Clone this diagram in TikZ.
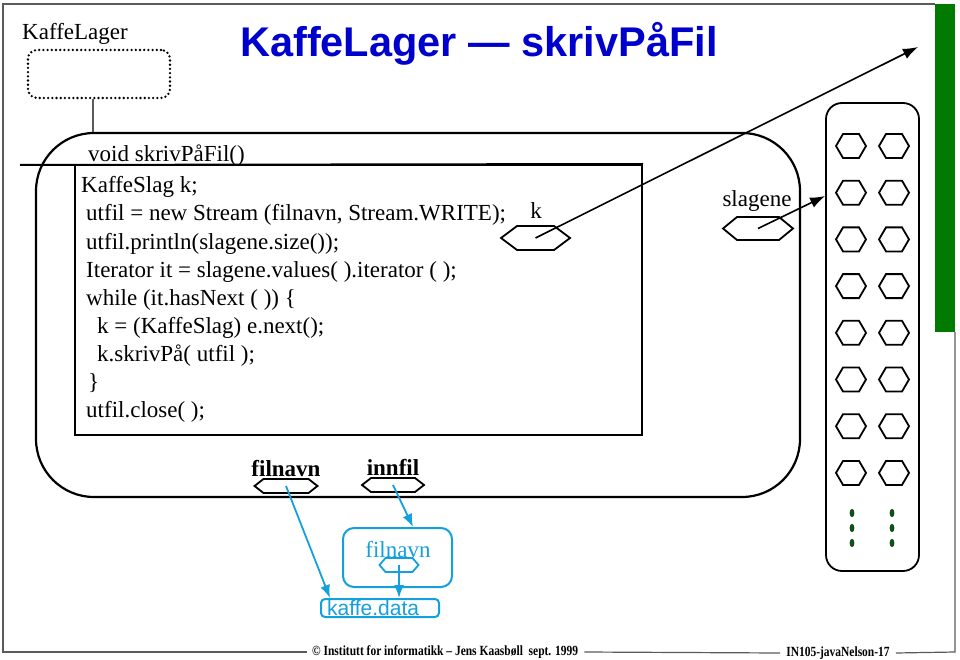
\documentclass[tikz,border=0pt]{standalone}
\usepackage{fontspec}
\setmainfont{Liberation Serif}
\newfontfamily\arial{Liberation Sans}
\usetikzlibrary{arrows.meta}
\definecolor{titel}{RGB}{0,0,204}
\definecolor{gronn}{RGB}{0,122,0}
\definecolor{fil}{RGB}{20,160,220}
\definecolor{ramme}{RGB}{90,90,90}
\definecolor{prikk}{RGB}{20,80,30}
\newcommand{\txtsize}{\fontsize{23}{28}\selectfont}
\newcommand{\fottekst}[1]{\scalebox{0.82}[1]{\bfseries\fontsize{14}{14}\selectfont #1}}
\newcommand{\hexa}[6][black]{
    \coordinate (#2) at #3;
    \draw[#1,line width=1.8pt] (#2) ++(-#4,0) -- ++(#5,-#6) -- ++({2*#4-2*#5},0) -- ++(#5,#6)
        -- ++(-#5,#6) -- ++({-2*#4+2*#5},0) -- cycle;
}
\tikzset{
    boks/.style={draw,line width=2pt,inner sep=0pt},
    kode/.style={anchor=base west,inner sep=0pt,font=\txtsize},
    peker/.style={line width=1.6pt,-{Latex[length=15pt,width=11pt]}},
    filpeker/.style={fil,line width=1.8pt,-{Latex[length=13pt,width=10pt]}}
}

\begin{document}
\begin{tikzpicture}[x=1pt,y=-1pt]
\useasboundingbox (0,0) rectangle (960,660);
\fill[gronn] (935,4) rectangle (955,332);
\draw[ramme,line width=1.2pt] (935,4) -- (3,4) -- (3,652) -- (307,652);
\node[anchor=west,inner sep=6pt] (fot) at (306,652)
    {\fottekst{\textcopyright\ Institutt for informatikk -- Jens Kaasbøll\ \ sept. 1999}};
\node[inner sep=6pt] (side) at (838,653) {\fottekst{IN105-javaNelson-17}};
\draw[ramme,line width=1.2pt] (fot.east) -- (side.west);
\draw[ramme,line width=1.2pt] (side.east) -- (955,652) -- (955,332);
\node[anchor=base west,inner sep=0pt,text=titel,font=\arial\bfseries\fontsize{41.5}{41.5}\selectfont] (tittel) at (240,57) {KaffeLager — skrivPåFil};
\node[kode] (lagernavn) at (22,40) {KaffeLager};
\node[draw,line width=2.6pt,dash pattern=on 0pt off 4.2pt,line cap=round,rounded corners=9pt,minimum width=142pt,minimum height=48pt] (lager) at (99,74) {};
\node[draw,line width=2.2pt,rounded corners=58pt,minimum width=764pt,minimum height=364pt] (metode) at (418,315) {};
\draw[ramme,line width=1.2pt] (93,0 |- lager.south) -- (93,0 |- metode.north);
\node[boks,minimum width=567pt,minimum height=270pt] (kodeboks) at (358.5,300) {};
\draw[line width=2pt] (20,165) -- (kodeboks.north east);
\node[kode] (signatur) at (88,162) {void skrivPåFil()};
\foreach \dx/\linje [count=\i] in {0/{KaffeSlag k;}, 5/{utfil = new Stream (filnavn, Stream.WRITE);},
    5/{utfil.println(slagene.size());}, 5/{Iterator it = slagene.values( ).iterator ( );},
    5/{while (it.hasNext ( )) \{}, 16/{k = (KaffeSlag) e.next();}, 16/{k.skrivPå( utfil );},
    7/{\}}, 5/{utfil.close( );}}
    \node[kode] (linje\i) at (81+\dx,165+28*\i) {\linje};
\node[kode,anchor=base] (knavn) at (536,219) {k};
\hexa{k}{(535.5,238)}{34.5}{16}{12}
\coordinate (kslag) at (918,47);
\draw[peker] (k) -- (kslag);
\node[draw,line width=1.8pt,rounded corners=16pt,minimum width=93pt,minimum height=468pt] (slagobj) at (872.5,337) {};
\node[kode,anchor=base] (slagnavn) at (757,207) {slagene};
\hexa{slagene}{(758,228.5)}{35}{14}{11.5}
\draw[peker] (slagene) -- (slagobj.west |- 0,196);
\foreach \r in {0,...,7}{
    \hexa{sa\r}{(851,146+46.7*\r)}{15}{7}{12}
    \hexa{sb\r}{(894,146+46.7*\r)}{15}{7}{12}
}
\foreach \yy in {513,528,543}{
    \fill[prikk] (852,\yy) ellipse (2.4 and 4.2);
    \fill[prikk] (892,\yy) ellipse (2.4 and 4.2);
}
\node[kode,anchor=base,font=\bfseries\txtsize] (filnavnnavn) at (286,476) {filnavn};
\hexa{filnavn}{(286,486)}{31.5}{9}{7}
\node[kode,anchor=base,font=\bfseries\txtsize] (innfilnavn) at (393,475) {innfil};
\hexa{innfil}{(393,485)}{31}{9}{7}
\node[draw=fil,line width=2pt,rounded corners=11pt,minimum width=109pt,minimum height=59pt] (filobj) at (397.5,557.5) {};
\node[kode,anchor=base,text=fil] (filobjnavn) at (398,557) {filnavn};
\hexa[fil]{fhex}{(399,565)}{19.5}{6}{7}
\node[draw=fil,line width=2pt,rounded corners=4pt,minimum width=118pt,minimum height=18pt,inner sep=0pt] (kaffe) at (380,608) {};
\node[kode,text=fil,font=\arial\fontsize{21}{21}\selectfont] (kaffenavn) at (327,615) {kaffe.data};
\draw[filpeker] (filnavn) -- (kaffe.north -| 330,0);
\draw[filpeker] (innfil) -- (filobj.north -| 413,0);
\draw[filpeker] (fhex) -- (fhex |- kaffe.north);
\end{tikzpicture}
\end{document}
